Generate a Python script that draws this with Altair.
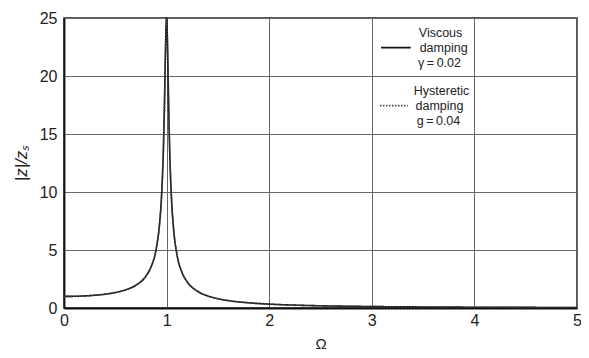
import altair as alt
import pandas as pd

# Frequency ratio values (Omega) and response |z|/z_s
omega = [0.0, 0.1, 0.2, 0.3, 0.4, 0.5, 0.6, 0.7, 0.8, 0.85, 0.9, 0.93, 0.95, 0.96, 0.97, 0.98,
         0.99, 0.995, 1.0, 1.005, 1.01, 1.02, 1.03, 1.04, 1.05, 1.07, 1.1, 1.15, 1.2, 1.3, 1.4,
         1.5, 1.6, 1.75, 1.8, 2.0, 2.25, 2.5, 3.0, 3.5, 4.0, 4.5, 5.0]
viscous = [1.0, 1.01, 1.042, 1.099, 1.19, 1.333, 1.562, 1.96, 2.77, 3.59, 5.17, 7.14, 9.56, 11.45,
           14.14, 17.95, 22.56, 24.37, 25.0, 24.14, 22.16, 17.42, 13.6, 10.92, 9.03, 6.62, 4.66,
           3.07, 2.27, 1.449, 1.042, 0.8, 0.641, 0.485, 0.446, 0.333, 0.246, 0.19, 0.125, 0.089,
           0.067, 0.052, 0.042]
hysteretic = [0.999, 1.01, 1.042, 1.099, 1.19, 1.333, 1.562, 1.96, 2.77, 3.59, 5.15, 7.1, 9.49, 11.36,
              14.01, 17.77, 22.38, 24.26, 25.0, 24.25, 22.34, 17.59, 13.72, 11.0, 9.09, 6.65, 4.68,
              3.08, 2.27, 1.449, 1.042, 0.8, 0.641, 0.485, 0.446, 0.333, 0.246, 0.19, 0.125, 0.089,
              0.067, 0.052, 0.042]

x_ticks = [0, 1, 2, 3, 4, 5]
y_ticks = [0, 5, 10, 15, 20, 25]

# Legend annotation texts and their positions in data units
legend_text = ["Viscous", "damping", "γ\u2009=\u20090.02", "Hysteretic", "damping", "g\u2009=\u20090.04"]
legend_x = [3.67, 3.70, 3.66, 3.68, 3.66, 3.65]
legend_y = [23.75, 22.45, 21.1, 18.75, 17.45, 16.15]
legend_line_series = ["Viscous", "Hysteretic"]
legend_line_x1 = [3.09, 3.08]
legend_line_x2 = [3.38, 3.35]
legend_line_y = [22.45, 17.45]

df = pd.DataFrame({
    "Omega": omega * 2,
    "ratio": viscous + hysteretic,
    "series": ["Viscous"] * len(omega) + ["Hysteretic"] * len(omega),
})
leg_df = pd.DataFrame({"text": legend_text, "x": legend_x, "y": legend_y})
leg_line_df = pd.DataFrame({"series": legend_line_series, "x": legend_line_x1,
                            "x2": legend_line_x2, "y": legend_line_y})

xscale = alt.Scale(domain=[0, 5], nice=False, zero=False)
yscale = alt.Scale(domain=[0, 25], nice=False)

dash_scale = alt.Scale(domain=["Viscous", "Hysteretic"], range=[[1, 0], [1.5, 1.5]])
color_scale = alt.Scale(domain=["Viscous", "Hysteretic"], range=["#111111", "#444444"])

lines = alt.Chart(df).mark_line(strokeWidth=1.6, interpolate="monotone").encode(
    x=alt.X("Omega:Q", scale=xscale,
            axis=alt.Axis(values=x_ticks, format="d", title="Ω", grid=True, tickSize=0,
                          labelPadding=4, labelFontSize=16, titleFontSize=15,
                          titleFontWeight="normal", titlePadding=8, labelFlush=False)),
    y=alt.Y("ratio:Q", scale=yscale,
            axis=alt.Axis(values=y_ticks, format="d", title="|z|/zₛ", grid=True, tickSize=0,
                          labelPadding=7, labelFontSize=16, titleFontSize=17,
                          titleFontWeight="normal", titleFontStyle="italic", titlePadding=9,
                          labelFlush=False)),
    color=alt.Color("series:N", scale=color_scale, legend=None),
    strokeDash=alt.StrokeDash("series:N", scale=dash_scale, legend=None),
    order=alt.Order("series:N", sort="descending"),
)

legend_lines = alt.Chart(leg_line_df).mark_rule(strokeWidth=1.6).encode(
    x=alt.X("x:Q", scale=xscale),
    x2="x2:Q",
    y=alt.Y("y:Q", scale=yscale),
    color=alt.Color("series:N", scale=color_scale, legend=None),
    strokeDash=alt.StrokeDash("series:N", scale=dash_scale, legend=None),
)

legend_texts = alt.Chart(leg_df).mark_text(fontSize=12.5, color="#222222", align="center",
                                           baseline="middle").encode(
    x=alt.X("x:Q", scale=xscale),
    y=alt.Y("y:Q", scale=yscale),
    text="text:N",
)

chart = alt.layer(lines, legend_lines, legend_texts).properties(
    width=513, height=290,
    autosize=alt.AutoSizeParams(type="none"),
    padding={"left": 56, "top": 10, "right": 4, "bottom": 48},
).configure_view(
    stroke="#222222", strokeWidth=1.5
).configure_axis(
    gridColor="#666666", gridWidth=1, gridOpacity=1,
    domainColor="#111111", domainWidth=1.8,
    labelColor="#222222", titleColor="#222222",
    labelFont="Liberation Sans", titleFont="Liberation Sans",
)

chart.save("out.html", embed_options={"renderer": "svg", "actions": False})
